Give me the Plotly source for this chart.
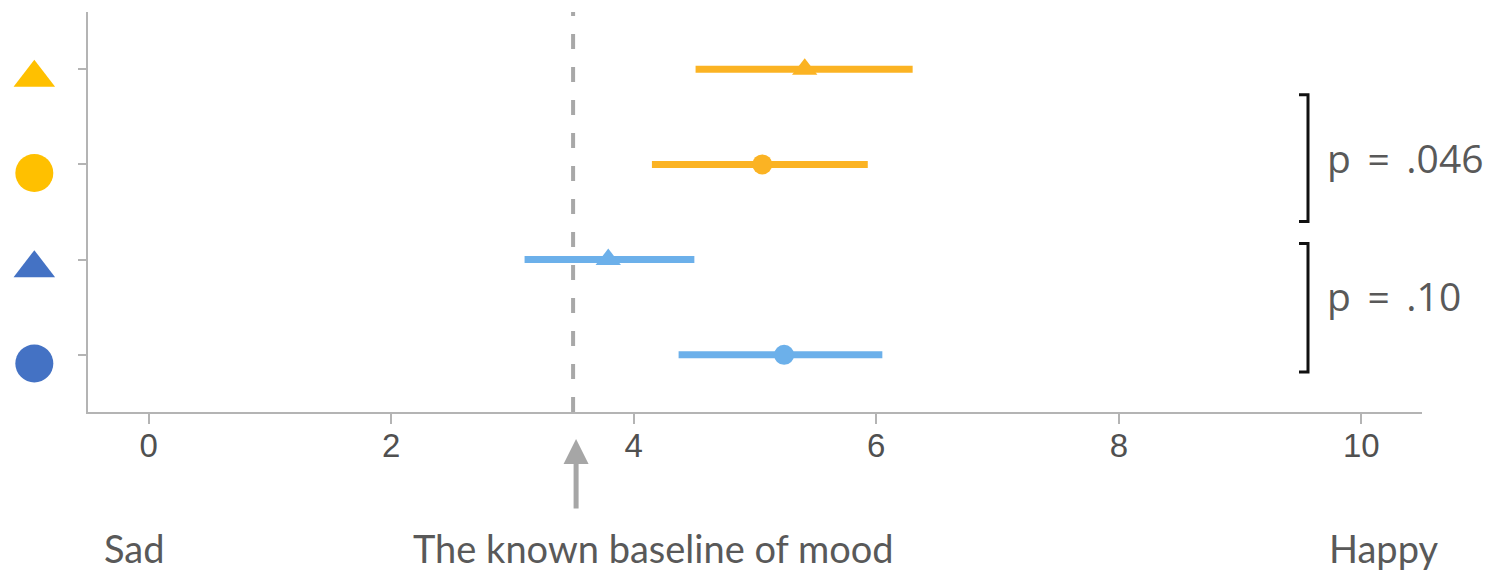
import plotly.graph_objects as go

# Rows are listed bottom to top on the y axis
rows = [0, 1, 2, 3]
symbols = ["circle", "triangle-up", "circle", "triangle-up"]
means = [5.24, 3.79, 5.06, 5.41]
ci_low = [4.37, 3.10, 4.15, 4.51]
ci_high = [6.05, 4.50, 5.93, 6.30]
bar_colors = ["#6CB0EA", "#6CB0EA", "#FBB323", "#FBB323"]
key_colors = ["#4472C4", "#4472C4", "#FFC000", "#FFC000"]

baseline = 3.5
x_ticks = [0, 2, 4, 6, 8, 10]

# Significance brackets: (top edge, bottom edge) in row units
bracket_spans = [(2.73, 1.40), (1.17, -0.18)]
bracket_label_y = [2.07, 0.62]
p_labels = ["p\u2009 = \u2009.046", "p\u2009 = \u2009.10"]

scale_labels = ["Sad", "The known baseline of mood", "Happy"]

W, H = 1496, 572
PLOT_LEFT, PLOT_RIGHT = 88, 1422   # pixel extent of the main plot area

AXIS_GREY = "#B4B4B4"
TEXT_GREY = "#595959"
KEY_DROP = 0.09     # keys sit slightly below their row


def px(x):
    """Horizontal pixel -> paper fraction (no side margins are used)."""
    return x / W


fig = go.Figure()

for r, sym, m, lo, hi, col in zip(rows, symbols, means, ci_low, ci_high, bar_colors):
    fig.add_trace(go.Scatter(
        x=[m], y=[r], mode="markers",
        marker=dict(symbol=sym, size=22 if sym.startswith("triangle") else 20,
                    color=col, opacity=1, line=dict(width=0)),
        error_x=dict(type="data", symmetric=False,
                     array=[hi - m], arrayminus=[m - lo],
                     color=col, thickness=7, width=0),
        showlegend=False, hoverinfo="x",
    ))

# Coloured keys in a narrow strip left of the y axis
fig.add_trace(go.Scatter(
    x=[0.39] * len(rows), y=[r - KEY_DROP for r in rows],
    xaxis="x2", yaxis="y", mode="markers",
    marker=dict(symbol=symbols, color=key_colors, opacity=1,
                size=[38 if s == "circle" else 36 for s in symbols],
                line=dict(width=0)),
    cliponaxis=False, showlegend=False, hoverinfo="skip",
))

shapes = [dict(type="line", xref="x", yref="paper", x0=baseline, x1=baseline,
               y0=0, y1=1, line=dict(color="#A8A8A8", width=4, dash="15px,18px"))]
for top, bot in bracket_spans:
    shapes.append(dict(
        type="path", xref="paper", yref="y",
        path=f"M {px(1299)} {top} L {px(1308)} {top} L {px(1308)} {bot} L {px(1299)} {bot}",
        line=dict(color="#111111", width=3),
    ))

annotations = []
for yv, txt in zip(bracket_label_y, p_labels):
    annotations.append(dict(
        x=px(1325), xref="paper", y=yv, yref="y", text=txt, showarrow=False,
        xanchor="left", yanchor="middle",
        font=dict(family="Open Sans", size=39, color=TEXT_GREY),
    ))

label_font = dict(family="Lato", size=38, color=TEXT_GREY)
annotations += [
    dict(x=px(102), xref="paper", y=-0.34, yref="paper", text=scale_labels[0],
         showarrow=False, xanchor="left", yanchor="middle", font=label_font),
    dict(x=px(653), xref="paper", y=-0.34, yref="paper", text=scale_labels[1],
         showarrow=False, xanchor="center", yanchor="middle", font=label_font),
    dict(x=px(1440), xref="paper", y=-0.34, yref="paper", text=scale_labels[2],
         showarrow=False, xanchor="right", yanchor="middle", font=label_font),
    # arrow pointing up at the baseline
    dict(x=baseline, xref="x", y=-0.0675, yref="paper", text="", showarrow=True,
         ax=0, ay=71, arrowhead=2, arrowsize=1, arrowwidth=5,
         arrowcolor="#A6A6A6", standoff=0, xshift=3),
]

fig.update_layout(
    width=W, height=H,
    margin=dict(l=0, r=0, t=12, b=160),
    paper_bgcolor="white", plot_bgcolor="white",
    showlegend=False,
    xaxis=dict(domain=[px(PLOT_LEFT), px(PLOT_RIGHT)], anchor="y",
               range=[-0.5, 10.5], tickvals=x_ticks, showgrid=False, zeroline=False,
               showline=True, linecolor=AXIS_GREY, linewidth=2,
               ticks="outside", ticklen=10, tickwidth=2, tickcolor=AXIS_GREY,
               ticklabelstandoff=-7,
               tickfont=dict(family="Liberation Sans", size=33, color="#505050")),
    xaxis2=dict(domain=[0, px(PLOT_LEFT)], anchor="y", range=[0, 1], visible=False,
                fixedrange=True),
    yaxis=dict(anchor="x", range=[-0.6, 3.6], tickvals=rows, showticklabels=False,
               showgrid=False, zeroline=False,
               showline=True, linecolor=AXIS_GREY, linewidth=2,
               ticks="outside", ticklen=8, tickwidth=2, tickcolor=AXIS_GREY),
    shapes=shapes,
    annotations=annotations,
)

fig.write_html("out.html")
